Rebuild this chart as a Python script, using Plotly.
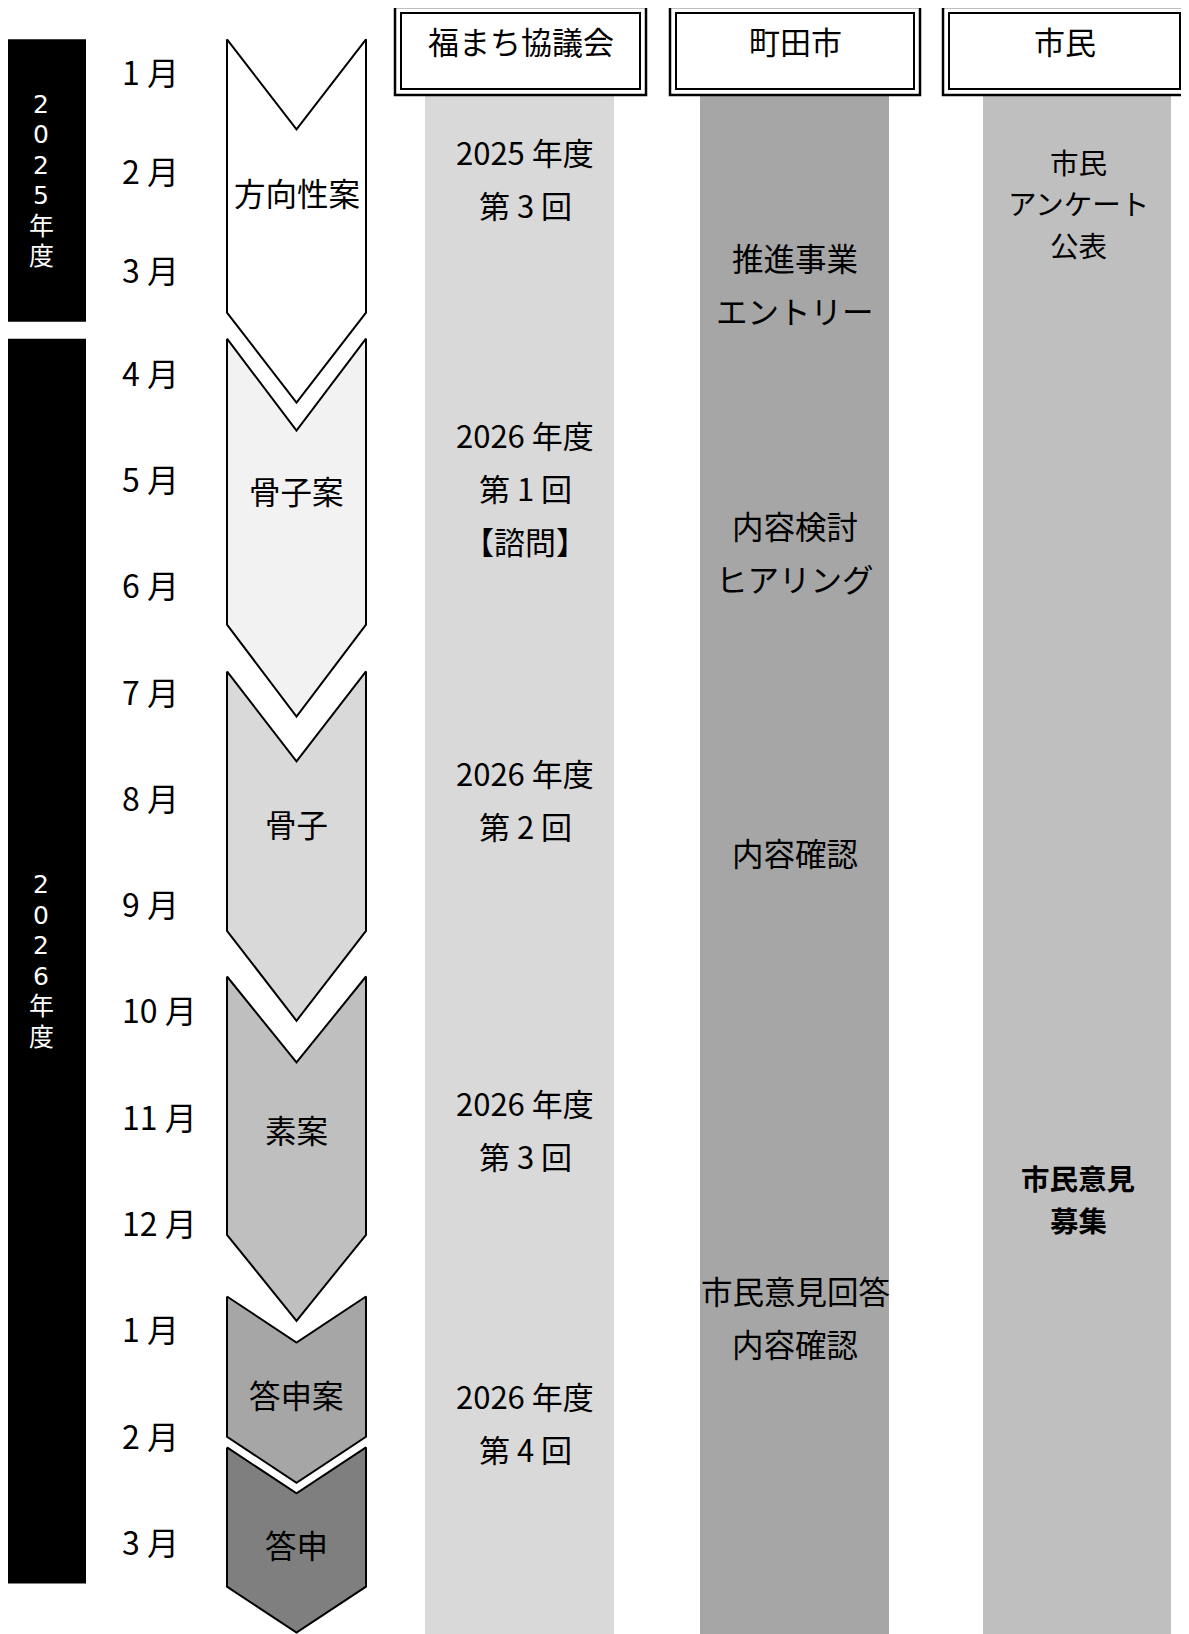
import plotly.graph_objects as go

# ---------------- data ----------------
months = ["1 月", "2 月", "3 月", "4 月", "5 月", "6 月", "7 月", "8 月", "9 月",
          "10 月", "11 月", "12 月", "1 月", "2 月", "3 月"]

fiscal_years = ["2025年度", "2026年度"]
fy_start = [0.18, 3.19]          # in month units (0 = start of Jan 2025)
fy_end = [3.03, 14.90]

phase_names = ["方向性案", "骨子案", "骨子", "素案", "答申案", "答申"]
phase_top = [0.18, 3.19, 6.32, 9.19, 12.20, 13.62]
phase_bottom = [2.94, 5.88, 8.76, 11.62, 13.52, 14.93]
phase_label_at = [1.72, 4.61, 7.75, 10.62, 13.12, 14.53]

columns = ["福まち協議会", "町田市", "市民"]

council_events = [["2025 年度", "第 3 回"],
                  ["2026 年度", "第 1 回", "【諮問】"],
                  ["2026 年度", "第 2 回"],
                  ["2026 年度", "第 3 回"],
                  ["2026 年度", "第 4 回"]]
council_at = [1.58, 4.59, 7.52, 10.62, 13.38]

city_events = [["推進事業", "エントリー"],
               ["内容検討", "ヒアリング"],
               ["内容確認"],
               ["市民意見回答", "内容確認"]]
city_at = [2.65, 5.19, 8.02, 12.39]

citizen_events = [["市民", "アンケート", "公表"],
                  ["市民意見", "募集"]]
citizen_at = [1.83, 11.28]

# ---------------- style / layout ----------------
PAGE_W, PAGE_H = 1189, 1634
BODY_MARGIN = 8                    # default browser body margin
W, H = PAGE_W - BODY_MARGIN, PAGE_H - BODY_MARGIN
FONT = "Noto Sans CJK JP"
YEAR_FONT = "DejaVu Sans, Noto Sans CJK JP"
PHASE_FILLS = ["#ffffff", "#f2f2f2", "#d9d9d9", "#bfbfbf", "#a6a6a6", "#7f7f7f"]
PHASE_DEPTH = [90, 92, 90, 86, 46, 46]
CHEV_L, CHEV_R = 227, 366
BAR_X0, BAR_X1 = 8, 86
MONTH_X = 120
COL_BOX = [(395, 646), (670, 920), (943, 1186)]
COL_BAND = [(425, 614), (700, 889), (983, 1171)]
BAND_FILLS = ["#d9d9d9", "#a6a6a6", "#bfbfbf"]
CITIZEN_BOLD = [False, True]


def y_of(m):
    """month units -> page pixel y"""
    return 21.5 + 99 * m if m <= 3 else 318.5 + 106.3 * (m - 3)


fig = go.Figure()
shapes = []
ann = []


def text(x, y, s, size=31, color="black", bold=False, xanchor="center", family=FONT):
    if bold:
        s = "<b>" + s + "</b>"
    ann.append(dict(x=x, y=y, xref="x", yref="y", text=s, showarrow=False,
                    xanchor=xanchor, yanchor="middle",
                    font=dict(family=family, size=size, color=color)))


# column bands
for (x0, x1), fc in zip(COL_BAND, BAND_FILLS):
    shapes.append(dict(type="rect", xref="x", yref="y", x0=x0, x1=x1, y0=95, y1=PAGE_H + 20,
                       fillcolor=fc, line=dict(width=0), layer="below"))

# column headers (double border boxes)
for (x0, x1), name in zip(COL_BOX, columns):
    shapes.append(dict(type="rect", xref="x", yref="y", x0=x0, x1=x1, y0=7, y1=95,
                       fillcolor="white", line=dict(color="black", width=2.5), layer="below"))
    shapes.append(dict(type="rect", xref="x", yref="y", x0=x0 + 6, x1=x1 - 6, y0=13, y1=89,
                       fillcolor="white", line=dict(color="black", width=2), layer="below"))
    text((x0 + x1) / 2, 40, name, size=31)

# fiscal year black bars with stacked (vertical) characters
for fy, a, b in zip(fiscal_years, fy_start, fy_end):
    y0, y1 = y_of(a), y_of(b)
    shapes.append(dict(type="rect", xref="x", yref="y", x0=BAR_X0, x1=BAR_X1, y0=y0, y1=y1,
                       fillcolor="black", line=dict(width=0), layer="below"))
    chars = list(fy)
    yc = (y0 + y1) / 2
    for i, ch in enumerate(chars):
        text(41, yc + (i - (len(chars) - 1) / 2) * 30.5, ch, size=25, color="white",
             family=YEAR_FONT)

# month labels
for i, mname in enumerate(months):
    text(MONTH_X, y_of(i + 0.5), mname, size=32, xanchor="left")

# chevrons
cx = (CHEV_L + CHEV_R) / 2
for name, a, b, la, fc, d in zip(phase_names, phase_top, phase_bottom, phase_label_at,
                                 PHASE_FILLS, PHASE_DEPTH):
    top, bot = y_of(a), y_of(b)
    xs = [CHEV_L, cx, CHEV_R, CHEV_R, cx, CHEV_L, CHEV_L]
    ys = [top, top + d, top, bot, bot + d, bot, top]
    fig.add_trace(go.Scatter(x=xs, y=ys, mode="lines", fill="toself", fillcolor=fc,
                             line=dict(color="black", width=2), hoverinfo="skip",
                             showlegend=False))
    text(cx, y_of(la), name, size=31.5)


# column event texts (separate lines with custom spacing)
def place(events, at, xc, gap, size, bold_flags=None):
    for k, (lines, m) in enumerate(zip(events, at)):
        yc = y_of(m)
        n = len(lines)
        bold = bold_flags[k] if bold_flags else False
        for i, ln in enumerate(lines):
            text(xc, yc + (i - (n - 1) / 2) * gap, ln, size=size, bold=bold)


place(council_events, council_at, 525, 53, 31)
place(city_events, city_at, 795, 53, 31.5)
place(citizen_events, citizen_at, 1078, 41.5, 28.5, CITIZEN_BOLD)

fig.update_layout(
    width=W, height=H, margin=dict(l=0, r=0, t=0, b=0),
    paper_bgcolor="white", plot_bgcolor="white",
    xaxis=dict(range=[BODY_MARGIN, BODY_MARGIN + W], visible=False, fixedrange=True),
    yaxis=dict(range=[BODY_MARGIN + H, BODY_MARGIN], visible=False, fixedrange=True),
    shapes=shapes, annotations=ann, showlegend=False,
)
fig.write_html("out.html")
